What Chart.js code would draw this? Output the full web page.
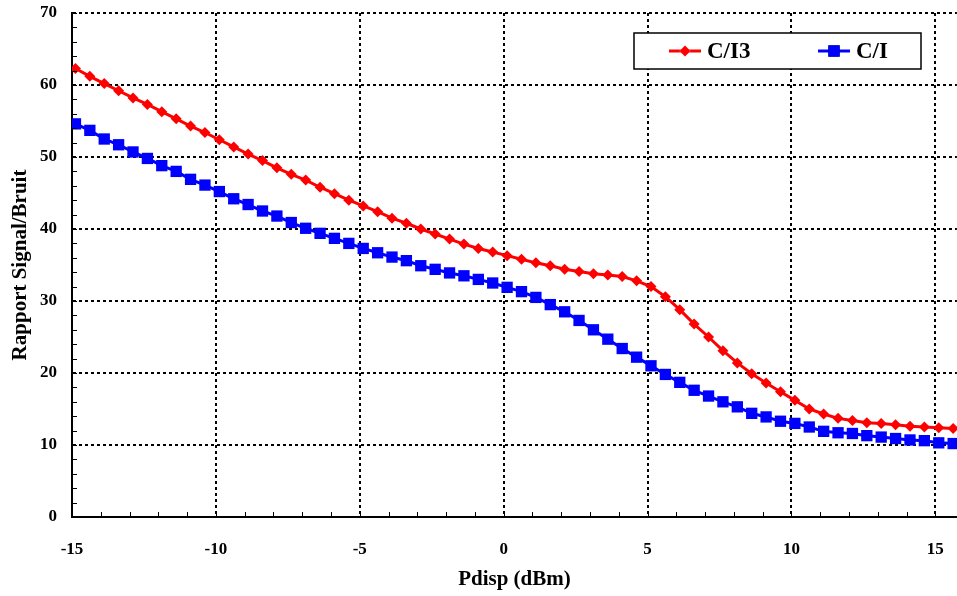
<!DOCTYPE html>
<html>
<head>
<meta charset="utf-8">
<script src="https://cdn.jsdelivr.net/npm/chart.js@4.4.0/dist/chart.umd.min.js"></script>
<style>
  html, body { margin: 0; padding: 0; background: #fff; overflow: hidden; }
  /* 9px de plus : la marge que Chart.js garde a droite pour le dernier label */
  #wrap { width: 966px; height: 596px; }
</style>
</head>
<body>
<div id="wrap"><canvas id="myChart"></canvas></div>
<script>
// Pdisp (dBm)
const pdisp = [-14.88, -14.38, -13.88, -13.38, -12.88, -12.38, -11.88, -11.38, -10.88, -10.38,
  -9.88, -9.38, -8.88, -8.38, -7.88, -7.38, -6.88, -6.38, -5.88, -5.38,
  -4.88, -4.38, -3.88, -3.38, -2.88, -2.38, -1.88, -1.38, -0.88, -0.38,
  0.12, 0.62, 1.12, 1.62, 2.12, 2.62, 3.12, 3.62, 4.12, 4.62,
  5.12, 5.62, 6.12, 6.62, 7.12, 7.62, 8.12, 8.62, 9.12, 9.62,
  10.12, 10.62, 11.12, 11.62, 12.12, 12.62, 13.12, 13.62, 14.12, 14.62,
  15.12, 15.62]

const ci3 = [62.3, 61.2, 60.2, 59.2, 58.2, 57.3, 56.3, 55.3, 54.3, 53.4,
  52.4, 51.4, 50.4, 49.5, 48.5, 47.6, 46.8, 45.8, 44.9, 44.0,
  43.2, 42.4, 41.5, 40.8, 40.0, 39.3, 38.6, 37.9, 37.3, 36.8,
  36.3, 35.8, 35.3, 34.9, 34.4, 34.1, 33.8, 33.6, 33.4, 32.8,
  32.0, 30.6, 28.8, 26.8, 25.0, 23.1, 21.4, 19.9, 18.6, 17.4,
  16.2, 15.0, 14.3, 13.7, 13.4, 13.1, 13.0, 12.8, 12.6, 12.5,
  12.4, 12.3]

const ci = [54.6, 53.7, 52.5, 51.7, 50.7, 49.8, 48.8, 48.0, 46.9, 46.1,
  45.2, 44.2, 43.4, 42.5, 41.8, 40.9, 40.1, 39.4, 38.7, 38.0,
  37.3, 36.7, 36.1, 35.6, 34.9, 34.4, 33.9, 33.5, 33.0, 32.5,
  31.9, 31.3, 30.5, 29.5, 28.5, 27.3, 26.0, 24.7, 23.4, 22.2,
  21.0, 19.8, 18.7, 17.6, 16.8, 16.0, 15.3, 14.4, 13.9, 13.3,
  13.0, 12.5, 11.9, 11.7, 11.6, 11.3, 11.1, 10.9, 10.7, 10.6,
  10.3, 10.2]

const xTicks = [-15, -10, -5, 0, 5, 10, 15]
const yTicks = [0, 10, 20, 30, 40, 50, 60, 70]

const police = 'Liberation Serif, Times New Roman, serif'

function pts(ys) {
  return pdisp.map((x, i) => ({ x: x, y: ys[i] }))
}

// petits traits (ticks) a l'interieur + legende encadree
const decor = {
  id: 'decor',
  afterDraw(chart) {
    const ctx = chart.ctx
    const a = chart.chartArea
    const sx = chart.scales.x
    const sy = chart.scales.y
    ctx.save()
    ctx.strokeStyle = '#000'
    ctx.lineWidth = 1
    ctx.beginPath()
    for (let v = -15; v <= 15; v += 1) {
      const px = Math.round(sx.getPixelForValue(v)) + 0.5
      ctx.moveTo(px, a.bottom)
      ctx.lineTo(px, a.bottom - 5)
    }
    for (let v = 0; v <= 70; v += 2) {
      const py = Math.round(sy.getPixelForValue(v)) + 0.5
      ctx.moveTo(a.left, py)
      ctx.lineTo(a.left + 5, py)
    }
    ctx.stroke()

    // legende
    const bx = 634, by = 33, bw = 287, bh = 36
    ctx.fillStyle = '#fff'
    ctx.fillRect(bx, by, bw, bh)
    ctx.lineWidth = 1.5
    ctx.strokeRect(bx, by, bw, bh)
    const items = [
      { ds: chart.data.datasets[0], x0: 669, x1: 701, tx: 707 },
      { ds: chart.data.datasets[1], x0: 818, x1: 850, tx: 856 }
    ]
    const cy = by + bh / 2
    items.forEach(it => {
      ctx.strokeStyle = it.ds.borderColor
      ctx.lineWidth = 3
      ctx.beginPath()
      ctx.moveTo(it.x0, cy)
      ctx.lineTo(it.x1, cy)
      ctx.stroke()
      Chart.helpers.drawPoint(ctx, {
        pointStyle: it.ds.pointStyle,
        radius: it.ds.pointRadius,
        borderWidth: 0
      }, (it.x0 + it.x1) / 2, cy)
      ctx.fillStyle = it.ds.borderColor
      ctx.fill()
      ctx.fillStyle = '#000'
      ctx.font = 'bold 23px ' + police
      ctx.textBaseline = 'middle'
      ctx.textAlign = 'left'
      ctx.fillText(it.ds.label, it.tx, cy + 1)
    })
    ctx.restore()
  }
}

const ctx = document.getElementById('myChart').getContext('2d')
const myChart = new Chart(ctx, {
  type: 'line',
  data: {
    datasets: [
      {
        label: 'C/I3',
        data: pts(ci3),
        borderColor: '#ff0000',
        backgroundColor: '#ff0000',
        borderWidth: 3,
        pointStyle: 'rectRot',
        pointRadius: 5.5,
        pointBorderWidth: 0,
        tension: 0
      },
      {
        label: 'C/I',
        data: pts(ci),
        borderColor: '#0000ff',
        backgroundColor: '#0000ff',
        borderWidth: 3,
        pointStyle: 'rect',
        pointRadius: 8,
        pointBorderWidth: 0,
        tension: 0
      }
    ]
  },
  options: {
    responsive: true,
    maintainAspectRatio: false,
    animation: false,
    layout: { padding: { top: 13, right: 0, left: 0, bottom: 0 } },
    plugins: {
      legend: { display: false },
      tooltip: { enabled: false }
    },
    scales: {
      x: {
        type: 'linear',
        min: -15,
        max: 15.75,
        afterBuildTicks: s => { s.ticks = xTicks.map(v => ({ value: v })) },
        afterFit: s => { s.height = 79 },
        grid: {
          color: c => c.tick && c.tick.value === -15 ? 'rgba(0,0,0,0)' : '#000',
          lineWidth: 2,
          drawTicks: false
        },
        border: { display: true, color: '#000', width: 2, dash: [3, 3] },
        ticks: {
          color: '#000',
          padding: 22,
          maxRotation: 0,
          font: { family: police, size: 17, weight: 'bold' }
        },
        title: {
          display: true,
          text: 'Pdisp (dBm)',
          color: '#000',
          padding: { top: 0, bottom: 4 },
          font: { family: police, size: 21, weight: 'bold' }
        }
      },
      y: {
        min: 0,
        max: 70,
        afterBuildTicks: s => { s.ticks = yTicks.map(v => ({ value: v })) },
        afterFit: s => {
          s.width = 72
          s.paddingTop = 0
          s.paddingBottom = 0
        },
        grid: {
          color: c => c.tick && c.tick.value === 0 ? 'rgba(0,0,0,0)' : '#000',
          lineWidth: 2,
          drawTicks: false
        },
        border: { display: true, color: '#000', width: 2, dash: [3, 3] },
        ticks: {
          color: '#000',
          padding: 15,
          font: { family: police, size: 17, weight: 'bold' }
        },
        title: {
          display: true,
          text: 'Rapport Signal/Bruit',
          color: '#000',
          padding: { top: 8, bottom: 0 },
          font: { family: police, size: 21, weight: 'bold' }
        }
      }
    }
  },
  plugins: [decor]
})
</script>
</body>
</html>
